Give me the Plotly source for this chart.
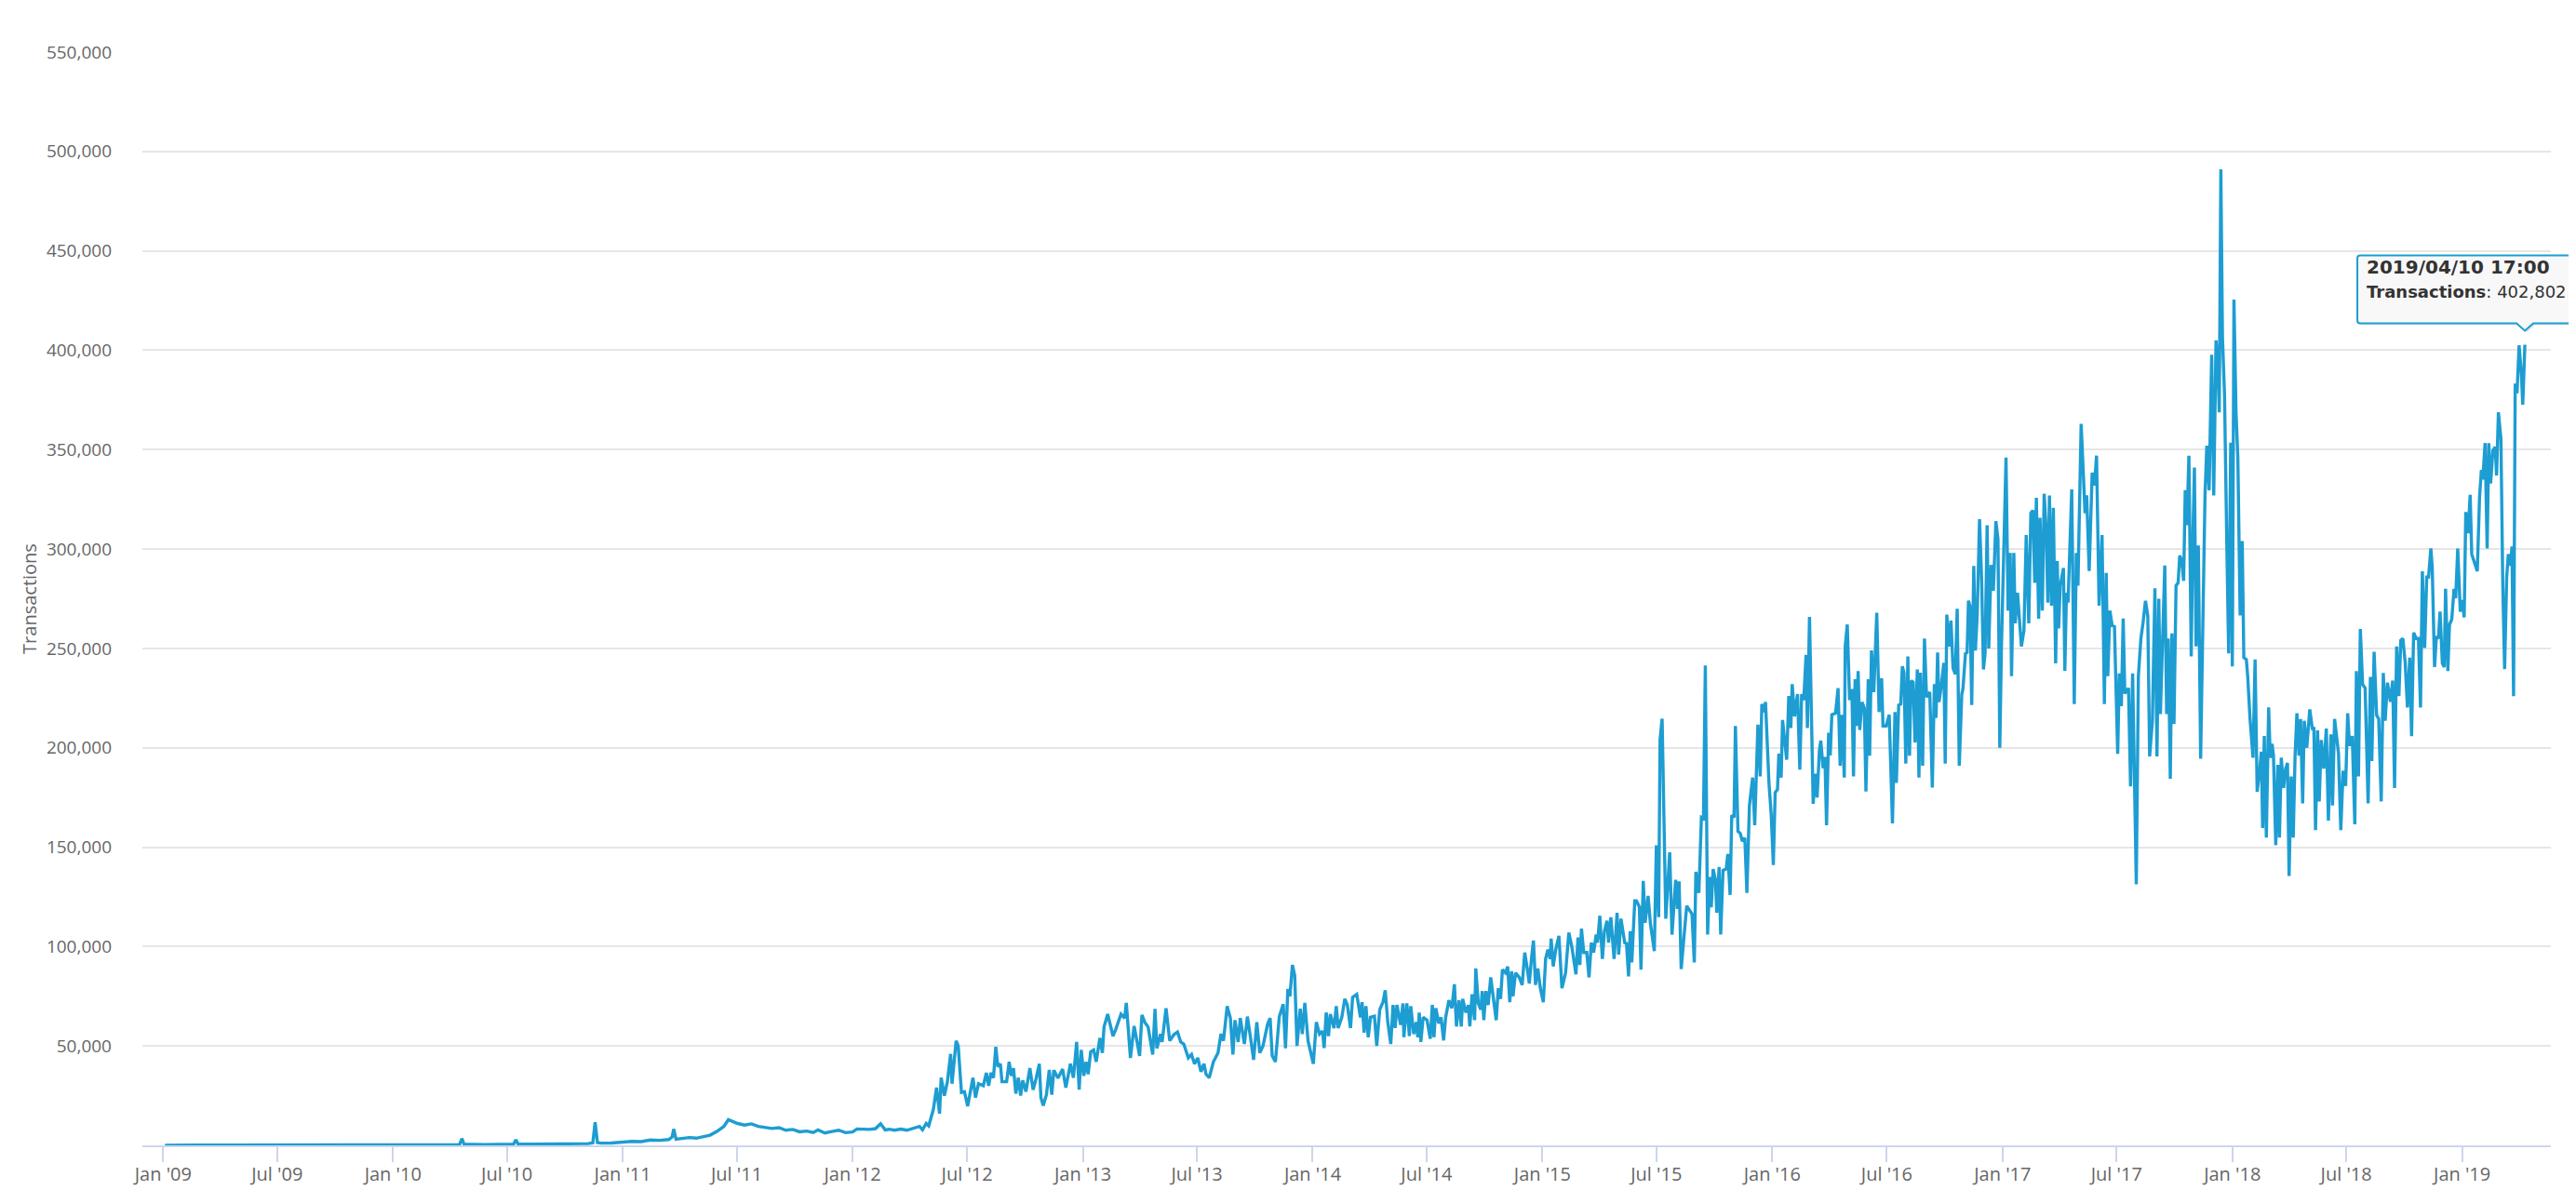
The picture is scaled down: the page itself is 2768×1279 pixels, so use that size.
import pandas as pd
import plotly.graph_objects as go

# ---------------- data (decimal year, transactions per day) ----------------
seg_2009_2011 = [
    (2009.008, 1), (2009.05, 90), (2009.15, 120), (2009.3, 150), (2009.45, 180), (2009.6, 220),
    (2009.75, 250), (2009.9, 230), (2010.05, 270), (2010.15, 300), (2010.25, 320), (2010.29, 400),
    (2010.30, 3400), (2010.31, 450), (2010.4, 420), (2010.5, 480), (2010.525, 600), (2010.535, 2800),
    (2010.545, 600), (2010.62, 650), (2010.7, 700), (2010.78, 800), (2010.85, 900), (2010.87, 1300),
    (2010.88, 11600), (2010.89, 1400), (2010.905, 1100), (2010.95, 1200), (2011.0, 1700), (2011.04, 2000),
    (2011.08, 1900), (2011.12, 2700), (2011.16, 2500), (2011.2, 2900), (2011.215, 4200), (2011.222, 8200),
    (2011.232, 3100), (2011.26, 3300), (2011.29, 3900), (2011.32, 3600), (2011.35, 4300), (2011.38, 5100),
    (2011.41, 7000), (2011.44, 9500), (2011.46, 12900), (2011.48, 11800), (2011.5, 11000), (2011.53, 10200),
    (2011.56, 10800), (2011.59, 9500), (2011.62, 9200), (2011.65, 8500), (2011.68, 8900), (2011.71, 7600),
    (2011.74, 8000), (2011.77, 6800), (2011.8, 7200), (2011.83, 6500), (2011.85, 7800), (2011.88, 6200),
    (2011.91, 7000), (2011.94, 7600), (2011.97, 6400),
]

seg_2012_2013 = [
    (2012.000, 6700), (2012.020, 8250), (2012.050, 7900), (2012.074, 8000), (2012.100, 8400), (2012.122, 10900),
    (2012.142, 7800), (2012.160, 8100), (2012.182, 7600), (2012.210, 8200), (2012.236, 7600), (2012.260, 8300),
    (2012.291, 9500), (2012.304, 7800), (2012.320, 11000), (2012.331, 9800), (2012.351, 18000), (2012.365, 29000),
    (2012.378, 16000), (2012.385, 34000), (2012.399, 25000), (2012.412, 32000), (2012.426, 46000), (2012.432, 31000),
    (2012.450, 52600), (2012.459, 50000), (2012.473, 26600), (2012.486, 27000), (2012.500, 19700), (2012.523, 34000),
    (2012.534, 24000), (2012.547, 31000), (2012.568, 30000), (2012.581, 36500), (2012.591, 30000), (2012.601, 36500),
    (2012.612, 34000), (2012.622, 49500), (2012.631, 39600), (2012.642, 41000), (2012.649, 32000), (2012.669, 32000),
    (2012.680, 42000), (2012.689, 35000), (2012.699, 38800), (2012.709, 26000), (2012.720, 34000), (2012.730, 25000),
    (2012.739, 32700), (2012.753, 27000), (2012.770, 38800), (2012.784, 28000), (2012.797, 33500), (2012.811, 41000),
    (2012.818, 24000), (2012.828, 20000), (2012.842, 25500), (2012.854, 38000), (2012.865, 25500), (2012.874, 37800),
    (2012.892, 33800), (2012.912, 38400), (2012.926, 29000), (2012.946, 41000), (2012.959, 34000), (2012.973, 52000),
    (2012.984, 28000), (2012.993, 48000), (2013.004, 35000), (2013.014, 42000), (2013.023, 35800), (2013.034, 47000),
    (2013.047, 48000), (2013.058, 42000), (2013.074, 54000), (2013.085, 46500), (2013.092, 59500), (2013.108, 66000),
    (2013.131, 55000), (2013.142, 58000), (2013.166, 66000), (2013.182, 64000), (2013.189, 71700), (2013.207, 44000),
    (2013.223, 60000), (2013.236, 52000), (2013.247, 45000), (2013.257, 65600), (2013.270, 61800), (2013.284, 59500),
    (2013.304, 45700), (2013.314, 68700), (2013.322, 48800), (2013.338, 56000), (2013.345, 52000), (2013.362, 69000),
    (2013.378, 52600), (2013.396, 55700), (2013.412, 57000), (2013.426, 52000), (2013.439, 51000), (2013.459, 44000),
    (2013.473, 45700), (2013.486, 41000), (2013.500, 44000), (2013.514, 37000), (2013.527, 41000), (2013.536, 35800),
    (2013.550, 34000), (2013.568, 42000), (2013.588, 46500), (2013.601, 56000), (2013.612, 52600), (2013.628, 70000),
    (2013.642, 64000), (2013.653, 45700), (2013.662, 63000), (2013.676, 52000), (2013.685, 64000), (2013.703, 51000),
    (2013.716, 64800), (2013.730, 54000), (2013.743, 43000), (2013.757, 62000), (2013.770, 46500), (2013.784, 50000),
    (2013.804, 61000), (2013.815, 64000), (2013.824, 45000), (2013.838, 42000), (2013.855, 64800), (2013.872, 71000),
    (2013.882, 48800), (2013.892, 78600), (2013.901, 75000), (2013.912, 90800), (2013.922, 85500), (2013.932, 50000),
    (2013.946, 68700), (2013.955, 56000), (2013.966, 71700), (2013.980, 52600),
]

seg_2014_2015 = [
    (2014.003, 41000), (2014.016, 62000), (2014.030, 56000), (2014.043, 57500), (2014.050, 49000), (2014.059, 66800),
    (2014.069, 55000), (2014.077, 66000), (2014.093, 59000), (2014.103, 70000), (2014.111, 59000), (2014.127, 64400),
    (2014.140, 73700), (2014.151, 70600), (2014.165, 59000), (2014.174, 74500), (2014.192, 76000), (2014.208, 64400),
    (2014.215, 72000), (2014.224, 56700), (2014.232, 70000), (2014.242, 54400), (2014.252, 64400), (2014.269, 65000),
    (2014.279, 50000), (2014.292, 68300), (2014.306, 72000), (2014.316, 78000), (2014.327, 62000), (2014.340, 51000),
    (2014.350, 70600), (2014.359, 59000), (2014.367, 70600), (2014.383, 60600), (2014.393, 71400), (2014.397, 54400),
    (2014.410, 71400), (2014.421, 55000), (2014.427, 70000), (2014.440, 56000), (2014.451, 62000), (2014.458, 54400),
    (2014.464, 66800), (2014.471, 52000), (2014.481, 64400), (2014.498, 63000), (2014.512, 53600), (2014.521, 70600),
    (2014.528, 54400), (2014.536, 69000), (2014.549, 61400), (2014.559, 64400), (2014.570, 52800), (2014.579, 64400),
    (2014.593, 73000), (2014.606, 69000), (2014.617, 81000), (2014.626, 59800), (2014.637, 73000), (2014.647, 59800),
    (2014.653, 73700), (2014.667, 66800), (2014.678, 70600), (2014.684, 59800), (2014.694, 76000), (2014.705, 63000),
    (2014.710, 89000), (2014.721, 71400), (2014.732, 68300), (2014.738, 77600), (2014.745, 63000), (2014.754, 77600),
    (2014.764, 70600), (2014.775, 84500), (2014.786, 75000), (2014.799, 63000), (2014.808, 79000), (2014.818, 73700),
    (2014.826, 88400), (2014.839, 86800), (2014.849, 90000), (2014.858, 72000), (2014.866, 87600), (2014.872, 75000),
    (2014.883, 86800), (2014.899, 84500), (2014.912, 80700), (2014.923, 97000), (2014.934, 89000), (2014.943, 81400),
    (2014.953, 94600), (2014.961, 103000), (2014.970, 80700), (2014.980, 89000), (2014.991, 79000), (2015.004, 72000),
    (2015.014, 93800), (2015.024, 98500), (2015.034, 93800), (2015.038, 104000), (2015.047, 90000), (2015.058, 98500),
    (2015.072, 105400), (2015.085, 79000), (2015.101, 86800), (2015.115, 107000), (2015.128, 100000), (2015.146, 86000),
    (2015.155, 104600), (2015.163, 90700), (2015.170, 109000), (2015.180, 97000), (2015.193, 97000), (2015.203, 84500),
    (2015.213, 102000), (2015.223, 97000), (2015.234, 106000), (2015.240, 102000), (2015.250, 115500), (2015.261, 93800),
    (2015.270, 107700), (2015.281, 113000), (2015.288, 102000), (2015.298, 114700), (2015.312, 93800), (2015.325, 117000),
    (2015.332, 96000), (2015.342, 114000), (2015.358, 102000), (2015.366, 101500), (2015.375, 85000), (2015.382, 107700),
    (2015.389, 92000), (2015.402, 123000), (2015.409, 123000), (2015.422, 120000), (2015.429, 88400), (2015.439, 133000),
    (2015.447, 112000), (2015.460, 125500), (2015.470, 111600),
]

seg_2015_2016 = [
    (2015.487, 97700), (2015.496, 151000), (2015.506, 114800), (2015.512, 204000), (2015.521, 214600), (2015.537, 114000),
    (2015.554, 147400), (2015.564, 106000), (2015.580, 133600), (2015.588, 119000), (2015.595, 132800), (2015.604, 88700),
    (2015.618, 106000), (2015.628, 120500), (2015.651, 116400), (2015.661, 92000), (2015.668, 137600), (2015.681, 127000),
    (2015.692, 165000), (2015.701, 164500), (2015.709, 241400), (2015.719, 106000), (2015.728, 135000), (2015.735, 119700),
    (2015.743, 139000), (2015.753, 133600), (2015.759, 117000), (2015.769, 140000), (2015.776, 106000), (2015.786, 138400),
    (2015.800, 139000), (2015.807, 146600), (2015.817, 126000), (2015.824, 166000), (2015.834, 165000), (2015.840, 211000),
    (2015.851, 158000), (2015.861, 157000), (2015.870, 153000), (2015.881, 154700), (2015.890, 127000), (2015.901, 171000),
    (2015.915, 185000), (2015.924, 161000), (2015.938, 211700), (2015.948, 185600), (2015.955, 222000), (2015.965, 218000),
    (2015.971, 223000), (2015.986, 182400), (2015.996, 166000), (2016.005, 141000), (2016.013, 177500), (2016.023, 179000),
    (2016.029, 197000), (2016.039, 185000), (2016.045, 214000), (2016.063, 194000), (2016.072, 226000), (2016.081, 210000),
    (2016.087, 232000), (2016.097, 215800), (2016.110, 227000), (2016.120, 189000), (2016.128, 227000), (2016.137, 224000),
    (2016.147, 246700), (2016.153, 210000), (2016.162, 265800), (2016.171, 211700), (2016.178, 171800), (2016.187, 187000),
    (2016.195, 175000), (2016.205, 198700), (2016.211, 203600), (2016.221, 189700), (2016.229, 195400), (2016.236, 161000),
    (2016.245, 207600), (2016.252, 196200), (2016.259, 216600), (2016.275, 217400), (2016.286, 230000), (2016.295, 191000),
    (2016.302, 216600), (2016.313, 185000), (2016.317, 251000), (2016.326, 262000), (2016.336, 224000), (2016.346, 229600),
    (2016.353, 185600), (2016.360, 234500), (2016.367, 211000), (2016.373, 238600), (2016.380, 209000), (2016.390, 223000),
    (2016.400, 220000), (2016.407, 178000), (2016.417, 234500), (2016.423, 196000), (2016.431, 249000), (2016.441, 228000),
    (2016.454, 268000), (2016.464, 218000), (2016.475, 235000), (2016.481, 211000), (2016.495, 211000), (2016.508, 216600),
    (2016.522, 162000), (2016.533, 218000), (2016.539, 182400), (2016.549, 221500), (2016.558, 222000), (2016.565, 241000),
    (2016.572, 237800), (2016.580, 192000), (2016.589, 246000), (2016.596, 196000), (2016.603, 233700), (2016.612, 233000),
    (2016.620, 202700), (2016.630, 239400), (2016.637, 185000), (2016.643, 237800), (2016.653, 191000), (2016.661, 255000),
    (2016.670, 225500), (2016.684, 228000), (2016.695, 180000), (2016.704, 232000), (2016.711, 215000), (2016.718, 248000),
    (2016.724, 223000), (2016.734, 231000), (2016.745, 242700), (2016.751, 192000), (2016.758, 267000), (2016.767, 251000),
    (2016.776, 264000), (2016.785, 240000), (2016.795, 237000), (2016.803, 270000), (2016.812, 191000), (2016.823, 227000),
    (2016.828, 229600), (2016.839, 247500), (2016.846, 248000), (2016.852, 274000), (2016.859, 271000), (2016.866, 221500),
    (2016.875, 291500), (2016.882, 249000), (2016.890, 267000), (2016.900, 315000), (2016.909, 285000), (2016.917, 239400),
    (2016.924, 247500), (2016.933, 312000), (2016.940, 250000), (2016.950, 292000), (2016.960, 279000), (2016.971, 314000),
    (2016.980, 305000),
]

seg_2017 = [
    (2016.988, 200000), (2016.995, 250000), (2017.015, 346000), (2017.024, 269000), (2017.033, 298000), (2017.039, 236000),
    (2017.049, 298000), (2017.055, 262600), (2017.065, 278000), (2017.082, 251000), (2017.093, 259000), (2017.103, 307000),
    (2017.114, 262600), (2017.123, 318000), (2017.132, 319500), (2017.140, 283000), (2017.147, 325800), (2017.157, 265000),
    (2017.163, 315700), (2017.173, 269000), (2017.181, 327800), (2017.190, 309400), (2017.197, 273000), (2017.204, 327000),
    (2017.213, 271500), (2017.221, 320700), (2017.231, 242500), (2017.238, 294000), (2017.244, 260000), (2017.251, 281600),
    (2017.265, 290400), (2017.271, 238700), (2017.278, 278000), (2017.285, 273000), (2017.301, 330000), (2017.312, 222000),
    (2017.321, 298000), (2017.328, 281600), (2017.342, 363000), (2017.359, 318000), (2017.366, 327000), (2017.377, 289000),
    (2017.390, 338400), (2017.400, 332000), (2017.409, 347000), (2017.420, 271500), (2017.433, 307000), (2017.443, 222000),
    (2017.451, 288000), (2017.458, 236000), (2017.467, 269000), (2017.477, 261400), (2017.487, 261000), (2017.501, 197000),
    (2017.508, 237400), (2017.517, 221000), (2017.525, 265000), (2017.532, 227300), (2017.548, 230000), (2017.557, 180600),
    (2017.566, 237400), (2017.582, 131300), (2017.591, 236000), (2017.602, 255000), (2017.611, 262600), (2017.622, 274000),
    (2017.632, 266400), (2017.640, 195700), (2017.652, 213400), (2017.663, 280300), (2017.672, 195700), (2017.680, 275000),
    (2017.687, 217000), (2017.696, 247500), (2017.706, 291700), (2017.714, 217000), (2017.721, 255000), (2017.730, 184400),
    (2017.737, 257600), (2017.746, 212000), (2017.755, 281600), (2017.764, 283000), (2017.771, 296700), (2017.780, 294000),
    (2017.788, 284000), (2017.795, 329600), (2017.802, 312000), (2017.811, 347000), (2017.821, 246000), (2017.827, 299000),
    (2017.835, 341000), (2017.842, 251000), (2017.852, 301800), (2017.862, 194500), (2017.872, 264000), (2017.881, 327000),
    (2017.889, 352000), (2017.899, 329600), (2017.910, 397700), (2017.919, 327000), (2017.929, 405000), (2017.937, 392700),
    (2017.943, 368700), (2017.950, 491000), (2017.957, 406600), (2017.966, 377500), (2017.976, 301800), (2017.984, 247500),
    (2017.993, 353500), (2018.000, 241000), (2018.007, 425500),
]

seg_2018_2019 = [
    (2018.016, 368800), (2018.024, 345600), (2018.034, 266600), (2018.043, 304000), (2018.050, 245400), (2018.061, 244400),
    (2018.067, 235700), (2018.077, 214500), (2018.090, 195000), (2018.099, 244400), (2018.108, 177900), (2018.119, 188500),
    (2018.126, 198000), (2018.132, 159600), (2018.139, 205900), (2018.148, 154800), (2018.158, 220300), (2018.165, 195000),
    (2018.173, 202000), (2018.179, 196000), (2018.189, 151000), (2018.198, 191400), (2018.205, 154800), (2018.213, 195000),
    (2018.223, 179800), (2018.232, 189500), (2018.240, 192400), (2018.247, 135500), (2018.256, 185600), (2018.265, 154800),
    (2018.273, 196000), (2018.281, 217400), (2018.290, 196000), (2018.297, 214500), (2018.306, 172000), (2018.313, 213600),
    (2018.324, 200000), (2018.337, 219300), (2018.348, 209700), (2018.355, 209700), (2018.362, 158600), (2018.371, 208700),
    (2018.378, 173000), (2018.387, 203900), (2018.398, 189500), (2018.409, 209700), (2018.418, 163400), (2018.429, 206800),
    (2018.436, 171000), (2018.445, 214500), (2018.462, 197200), (2018.472, 158600), (2018.482, 188500), (2018.493, 180800),
    (2018.502, 217400), (2018.510, 201000), (2018.522, 205900), (2018.533, 161500), (2018.540, 238600), (2018.549, 185600),
    (2018.557, 259800), (2018.567, 231800), (2018.578, 230000), (2018.591, 172000), (2018.601, 235700), (2018.607, 193300),
    (2018.617, 248300), (2018.628, 216400), (2018.637, 214500), (2018.648, 173000), (2018.657, 237700), (2018.665, 213600),
    (2018.675, 232800), (2018.688, 223200), (2018.698, 233800), (2018.706, 179800), (2018.715, 251000), (2018.725, 226000),
    (2018.733, 254000), (2018.742, 255000), (2018.752, 243400), (2018.762, 220300), (2018.772, 245400), (2018.780, 205900),
    (2018.789, 257900), (2018.800, 255000), (2018.810, 255000), (2018.819, 220300), (2018.827, 288800), (2018.837, 250200),
    (2018.846, 285900), (2018.854, 285900), (2018.864, 300300), (2018.870, 290700), (2018.880, 240600), (2018.888, 256000),
    (2018.897, 255000), (2018.904, 268500), (2018.914, 242500), (2018.922, 240600), (2018.928, 280000), (2018.938, 238600),
    (2018.945, 261800), (2018.955, 264700), (2018.965, 280000), (2018.972, 275300), (2018.981, 300300), (2018.992, 268500),
    (2019.001, 274300), (2019.009, 265600), (2019.016, 318600), (2019.026, 308000), (2019.035, 327300), (2019.042, 297400),
    (2019.053, 293600), (2019.066, 288800), (2019.076, 326300), (2019.084, 339800), (2019.090, 335000), (2019.100, 353300),
    (2019.109, 300300), (2019.116, 353300), (2019.124, 333000), (2019.134, 349500), (2019.144, 351400), (2019.150, 337000),
    (2019.158, 368800), (2019.169, 355300), (2019.177, 282000), (2019.185, 239600), (2019.194, 285900), (2019.201, 297400),
    (2019.211, 291600), (2019.217, 301300), (2019.224, 226000), (2019.231, 383200), (2019.239, 378400), (2019.248, 402500),
    (2019.258, 388000), (2019.264, 372600),
]

last_timestamp = "2019-04-10 17:00"
last_value = 402802

series_name = "Transactions"
x_range = ["2008-11-29", "2019-05-22"]
y_max = 550000
y_ticks = list(range(50000, 550001, 50000))

# ---------------- build series ----------------
def to_ts(y):
    yr = int(y)
    start = pd.Timestamp(yr, 1, 1)
    end = pd.Timestamp(yr + 1, 1, 1)
    return start + (end - start) * (y - yr)

pairs = seg_2009_2011 + seg_2012_2013 + seg_2014_2015 + seg_2015_2016 + seg_2017 + seg_2018_2019
dates = [to_ts(p[0]) for p in pairs] + [pd.Timestamp(last_timestamp)]
values = [p[1] for p in pairs] + [last_value]

line_color = "#1d9dd2"

fig = go.Figure()
fig.add_trace(go.Scatter(
    x=dates, y=values, mode="lines", name=series_name,
    line=dict(color=line_color, width=3.4), hoverinfo="skip", showlegend=False,
))

# x ticks: Jan and Jul of each year
tick_dates = []
for yr in range(2009, 2020):
    for m in (1, 7):
        d = pd.Timestamp(yr, m, 1)
        if pd.Timestamp(x_range[0]) <= d <= pd.Timestamp(x_range[1]):
            tick_dates.append(d)
tick_text = [f"{d:%b} '{d:%y}" for d in tick_dates]

label_font = dict(family="Open Sans, DejaVu Sans, sans-serif", size=19, color="#666666")

fig.update_layout(
    width=2768, height=1279,
    margin=dict(l=145, r=35, t=48, b=46),
    paper_bgcolor="white", plot_bgcolor="white",
    hovermode=False,
    xaxis=dict(
        type="date", range=x_range,
        tickvals=tick_dates, ticktext=tick_text,
        showgrid=False, zeroline=False,
        showline=True, linecolor="#ccd6eb", linewidth=2,
        ticks="outside", ticklen=16, tickwidth=2, tickcolor="#ccd6eb",
        tickfont=dict(family="Open Sans, DejaVu Sans, sans-serif", size=20, color="#666666"),
        ticklabelstandoff=-4,
        layer="below traces",
    ),
    yaxis=dict(
        range=[0, y_max],
        tickvals=y_ticks, tickformat=",",
        showgrid=True, gridcolor="#e6e6e6", gridwidth=2,
        zeroline=False, showline=False, ticks="",
        tickfont=label_font,
        ticklabelstandoff=32,
        title=dict(text="Transactions", standoff=4,
                   font=dict(family="Open Sans, DejaVu Sans, sans-serif", size=20, color="#666666")),
    ),
)

# ---------------- tooltip at the last data point ----------------
x0 = pd.Timestamp(x_range[0])
x1 = pd.Timestamp(x_range[1])
px = (pd.Timestamp(last_timestamp) - x0) / (x1 - x0)
py = last_value / y_max

callout = ("M -177,23 L -9,23 L 0,15 L 9,23 L 59,23 Q 62,23 62,26 L 62,93 Q 62,96 59,96 "
           "L -177,96 Q -180,96 -180,93 L -180,26 Q -180,23 -177,23 Z")
shadow = ("M -175,21 L -7,21 L 2,13 L 11,21 L 61,21 Q 64,21 64,24 L 64,91 Q 64,94 61,94 "
          "L -175,94 Q -178,94 -178,91 L -178,24 Q -178,21 -175,21 Z")
fig.add_shape(type="path", xref="paper", yref="paper", xsizemode="pixel", ysizemode="pixel",
              xanchor=px, yanchor=py, path=shadow,
              fillcolor="rgba(0,0,0,0.10)", line=dict(width=0), layer="above")
fig.add_shape(type="path", xref="paper", yref="paper", xsizemode="pixel", ysizemode="pixel",
              xanchor=px, yanchor=py, path=callout,
              fillcolor="rgba(248,248,248,0.97)", line=dict(color=line_color, width=2), layer="above")

header = pd.Timestamp(last_timestamp).strftime("%Y/%m/%d %H:%M")
fig.add_annotation(
    x=pd.Timestamp(last_timestamp), y=last_value, xref="x", yref="y",
    text=(f"<b>{header}</b><br>"
          f"<span style='font-size:18px'><b>{series_name}</b>: {last_value:,}</span>"),
    showarrow=False, xanchor="left", yanchor="middle", align="left",
    xshift=-172, yshift=71,
    font=dict(family="DejaVu Sans, Verdana, sans-serif", size=20, color="#333333"),
)

fig.write_html("out.html")
